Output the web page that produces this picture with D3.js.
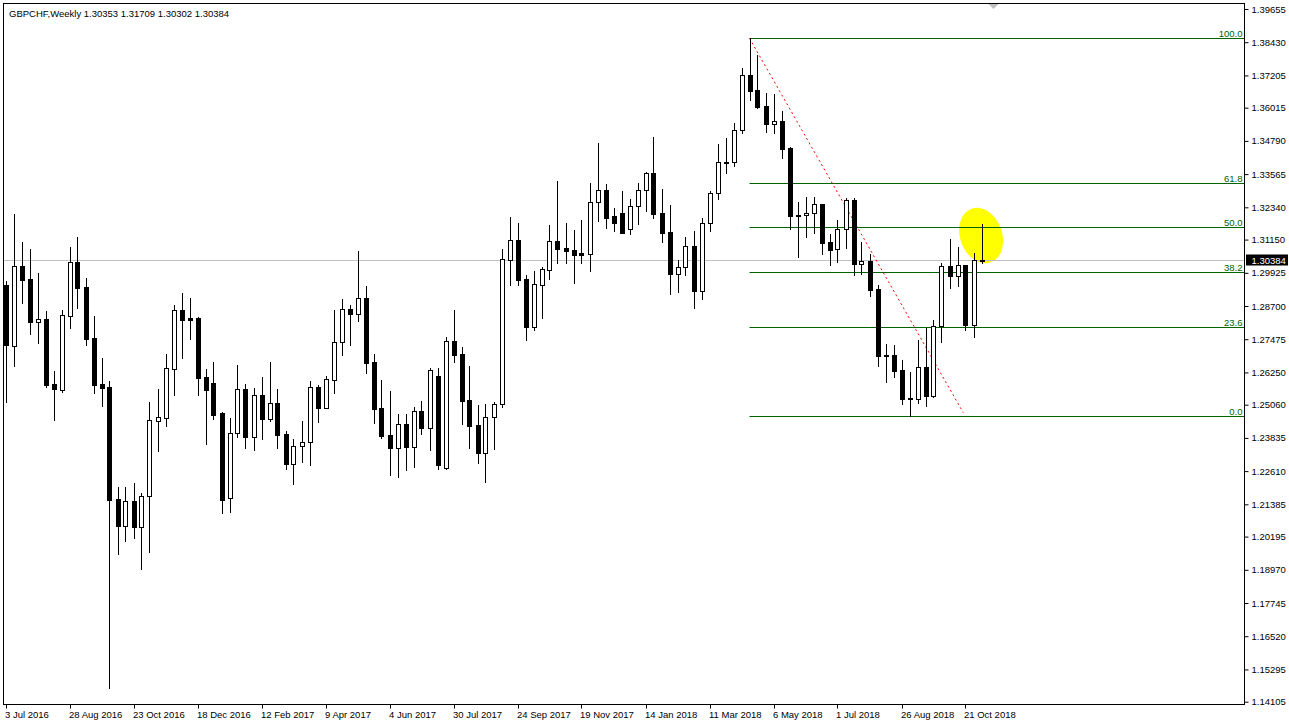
<!DOCTYPE html>
<html><head><meta charset="utf-8">
<script src="https://cdn.jsdelivr.net/npm/d3@7"></script>
<style>
html,body{margin:0;padding:0;background:#fff;}
svg{display:block;}
text{font-family:"Liberation Sans",Arial,sans-serif;font-size:9.5px;fill:#000;}
</style></head><body>
<svg id="c" width="1289" height="727"></svg>
<script>
const symbolTitle = "GBPCHF,Weekly  1.30353 1.31709 1.30302 1.30384";
const opens = [1.29475,1.27236,1.30165,1.29696,1.28121,1.28221,1.25823,1.25613,1.28342,1.30323,
1.29401,1.27520,1.25823,1.25712,1.21581,1.20597,1.21508,1.20560,1.21681,1.24470,
1.24580,1.26365,1.28553,1.28258,1.28258,1.26081,1.25860,1.24753,1.21607,1.24005,
1.25639,1.23879,1.25417,1.24543,1.25111,1.23968,1.22883,1.23525,1.23673,1.25701,
1.24927,1.25982,1.27361,1.28590,1.28394,1.28984,1.26624,1.24927,1.23942,1.23474,
1.24337,1.23511,1.24816,1.24211,1.26118,1.22714,1.27398,1.26919,1.25222,1.24311,
1.23267,1.24595,1.25086,1.30386,1.31124,1.29696,1.27937,1.29486,1.30039,1.31098,
1.30851,1.30766,1.30655,1.30629,1.32525,1.32968,1.32020,1.32119,1.31529,1.32378,
1.32968,1.33606,1.32119,1.31419,1.29892,1.30128,1.30902,1.29265,1.31751,1.32857,
1.33986,1.34001,1.35192,1.37221,1.36667,1.36077,1.35402,1.35524,1.34528,1.32046,
1.32046,1.32119,1.32463,1.31061,1.30792,1.31529,1.32610,1.30260,1.30360,1.29327,
1.26893,1.26893,1.26340,1.25307,1.25259,1.26439,1.25392,1.27974,1.30165,1.29818,
1.30201,1.28010,1.30353];
const highs = [1.29622,1.32094,1.31061,1.30803,1.29917,1.28516,1.26303,1.28553,1.30876,1.31245,
1.29733,1.28331,1.26782,1.25934,1.22035,1.22035,1.22172,1.21792,1.25170,1.25639,
1.26941,1.28737,1.29180,1.28995,1.28295,1.26376,1.26635,1.24790,1.24580,1.26535,
1.25834,1.25676,1.26092,1.26635,1.25639,1.24090,1.23795,1.24458,1.25934,1.25786,
1.26129,1.28553,1.28958,1.28726,1.30729,1.29438,1.26919,1.25971,1.25565,1.24717,
1.24717,1.24975,1.25185,1.26424,1.26424,1.27557,1.28553,1.27188,1.26487,1.25049,
1.25074,1.25148,1.30803,1.31983,1.31762,1.29844,1.29991,1.30139,1.31688,1.33311,
1.31762,1.31503,1.31883,1.33248,1.34712,1.33200,1.32326,1.32942,1.32636,1.33237,
1.33654,1.34934,1.33016,1.32415,1.30386,1.31245,1.31467,1.31946,1.32953,1.34676,
1.34897,1.35439,1.37468,1.38574,1.37958,1.36546,1.36520,1.35893,1.34554,1.32536,
1.32721,1.32721,1.32470,1.31356,1.31872,1.32695,1.32695,1.31050,1.30618,1.29475,
1.27299,1.27262,1.26708,1.26266,1.27446,1.27900,1.28184,1.30275,1.31172,1.30876,
1.30210,1.30644,1.31709];
const lows = [1.25159,1.26498,1.28822,1.27679,1.27347,1.25724,1.24506,1.25539,1.27900,1.28638,
1.27273,1.25502,1.25023,1.14621,1.19564,1.20043,1.20154,1.19011,1.19638,1.23363,
1.24285,1.25429,1.26793,1.27494,1.25429,1.23621,1.24543,1.21076,1.21113,1.23879,
1.23474,1.23389,1.23795,1.24470,1.23463,1.22688,1.22146,1.22935,1.22836,1.24433,
1.24920,1.25480,1.26893,1.27262,1.28158,1.26229,1.24396,1.23842,1.22478,1.22404,
1.22662,1.22762,1.23968,1.23400,1.22699,1.22699,1.26646,1.24359,1.23474,1.22909,
1.22220,1.23437,1.24975,1.29486,1.29464,1.27457,1.27815,1.28269,1.29707,1.30297,
1.30297,1.29560,1.30297,1.30002,1.31847,1.31588,1.31478,1.31382,1.31367,1.31736,
1.32215,1.31957,1.31072,1.29154,1.29228,1.29855,1.28638,1.28970,1.31478,1.32647,
1.33595,1.33875,1.35070,1.36299,1.36015,1.35129,1.35092,1.34170,1.31540,1.30519,
1.31256,1.31404,1.30629,1.30224,1.30334,1.30840,1.29855,1.29892,1.29080,1.26498,
1.25908,1.26092,1.25086,1.24632,1.25133,1.25023,1.25355,1.27383,1.29375,1.29438,
1.27826,1.27568,1.30302];
const closes = [1.27262,1.30165,1.29670,1.28121,1.28221,1.25786,1.25650,1.28357,1.30323,1.29375,
1.27494,1.25797,1.25687,1.21556,1.20597,1.21508,1.20560,1.21692,1.24495,1.24595,
1.26402,1.28553,1.28195,1.28195,1.26056,1.25613,1.24691,1.21556,1.24005,1.25628,
1.23879,1.25417,1.24543,1.25111,1.23953,1.22883,1.23525,1.23673,1.25701,1.24927,
1.25997,1.27361,1.28579,1.28394,1.28984,1.26609,1.24912,1.23916,1.23474,1.24337,
1.23511,1.24816,1.24211,1.26329,1.22847,1.27398,1.26904,1.25207,1.24285,1.23267,
1.24595,1.25086,1.30423,1.31124,1.29670,1.27937,1.29501,1.30054,1.31098,1.30814,
1.30740,1.30592,1.30592,1.32536,1.32968,1.31957,1.31773,1.31404,1.32378,1.32968,
1.33606,1.32105,1.31404,1.29892,1.30128,1.30902,1.29265,1.31751,1.32857,1.34001,
1.34012,1.35181,1.37221,1.36642,1.36040,1.35402,1.35513,1.34502,1.32031,1.32057,
1.32131,1.32463,1.31035,1.30766,1.31529,1.32610,1.30260,1.30360,1.29301,1.26867,
1.26880,1.26314,1.25281,1.25259,1.26439,1.25392,1.27963,1.30165,1.29818,1.30201,
1.28010,1.30397,1.30384];
const priceTicks = [1.39655,1.38430,1.37205,1.36015,1.34790,1.33565,1.32340,1.31150,1.29925,1.28700,1.27475,
1.26250,1.25060,1.23835,1.22610,1.21385,1.20195,1.18970,1.17745,1.16520,1.15295,1.14105];
const timeTickLabels = ["3 Jul 2016","28 Aug 2016","23 Oct 2016","18 Dec 2016","12 Feb 2017","9 Apr 2017",
"4 Jun 2017","30 Jul 2017","24 Sep 2017","19 Nov 2017","14 Jan 2018","11 Mar 2018","6 May 2018",
"1 Jul 2018","26 Aug 2018","21 Oct 2018"];
const fibLevels = [0, 23.6, 38.2, 50.0, 61.8, 100.0];
const fibAnchorHigh = {idx: 93, price: 1.38574};
const fibAnchorLow = {idx: 113, price: 1.24632};
const trendLine = [{idx: 93, price: 1.38574}, {idx: 119.72, price: 1.24765}];
const highlight = {idx: 121.95, price: 1.3130};

const W = 1289, H = 727;
const plotL = 3.5, plotT = 3.5, plotR = 1244.5, plotB = 704.5;
const svg = d3.select("#c");
svg.append("rect").attr("width", W).attr("height", H).attr("fill", "#fff");

const n = opens.length;
const x = d3.scaleLinear().domain([0, n - 1]).range([5.5, 5.5 + 8 * (n - 1)]);
const y = d3.scaleLinear().domain([1.14105, 1.39655]).range([701.7, 9]);

svg.append("clipPath").attr("id", "plotclip").append("rect")
  .attr("x", plotL + 0.5).attr("y", plotT + 0.5).attr("width", plotR - plotL - 1).attr("height", plotB - plotT - 1);
const plot = svg.append("g").attr("clip-path", "url(#plotclip)");

// yellow highlight
plot.append("ellipse")
  .attr("transform", `translate(${x(highlight.idx)},${y(highlight.price)}) rotate(-20)`)
  .attr("rx", 21).attr("ry", 28.5).attr("fill", "#ffff00");

// current price line
const last = closes[n - 1];
plot.append("line").attr("x1", plotL).attr("x2", plotR)
  .attr("y1", Math.round(y(last)) + 0.5).attr("y2", Math.round(y(last)) + 0.5)
  .attr("stroke", "#c0c0c0").attr("stroke-width", 1);

// fib lines
const fibRange = fibAnchorHigh.price - fibAnchorLow.price;
const fg = plot.append("g");
fibLevels.forEach(l => {
  const p = fibAnchorLow.price + fibRange * l / 100;
  const yy = Math.round(y(p)) + 0.5;
  fg.append("line").attr("x1", x(fibAnchorHigh.idx)).attr("x2", plotR)
    .attr("y1", yy).attr("y2", yy).attr("stroke", "#006400").attr("stroke-width", 1);
  fg.append("text").attr("x", plotR - 2).attr("y", yy - 2).attr("text-anchor", "end")
    .style("fill", "#006400").text(l.toFixed(1));
});

// trend line
plot.append("line")
  .attr("x1", x(trendLine[0].idx)).attr("y1", y(trendLine[0].price))
  .attr("x2", x(trendLine[1].idx)).attr("y2", y(trendLine[1].price))
  .attr("stroke", "#ff0000").attr("stroke-width", 1).attr("stroke-dasharray", "2,3");

// candles
const data = opens.map((o, i) => ({i, o, h: highs[i], l: lows[i], c: closes[i]}));
const cg = plot.append("g");
cg.selectAll("line.wick").data(data).join("line").attr("class", "wick")
  .attr("x1", d => Math.round(x(d.i)) + 0.5).attr("x2", d => Math.round(x(d.i)) + 0.5)
  .attr("y1", d => Math.round(y(d.h))).attr("y2", d => Math.round(y(d.l)) + 1)
  .attr("stroke", "#000").attr("stroke-width", 1);
cg.selectAll("rect.body").data(data).join("rect").attr("class", "body")
  .attr("x", d => Math.round(x(d.i)) - 2 + 0.5)
  .attr("y", d => Math.round(y(Math.max(d.o, d.c))) + 0.5)
  .attr("width", 4)
  .attr("height", d => Math.max(1, Math.round(y(Math.min(d.o, d.c))) - Math.round(y(Math.max(d.o, d.c)))))
  .attr("fill", d => d.c >= d.o ? "#fff" : "#000")
  .attr("stroke", "#000").attr("stroke-width", 1);

// frame
svg.append("rect").attr("x", plotL).attr("y", plotT).attr("width", plotR - plotL).attr("height", plotB - plotT)
  .attr("fill", "none").attr("stroke", "#000").attr("stroke-width", 1);

// price axis
const ya = svg.append("g").attr("transform", `translate(${plotR},0)`)
  .call(d3.axisRight(y).tickValues(priceTicks).tickSize(4).tickPadding(3).tickFormat(d3.format(".5f")));
ya.select(".domain").remove();
ya.selectAll("line").attr("stroke", "#000");
ya.selectAll("text").style("font-family", '"Liberation Sans",Arial,sans-serif').style("font-size", "9.5px").attr("fill", "#000");

// current price tag
const tagY = Math.round(y(last));
svg.append("rect").attr("x", plotR + 1.5).attr("y", tagY - 5.5).attr("width", 42).attr("height", 11).attr("fill", "#000");
svg.append("text").attr("x", plotR + 7).attr("y", tagY + 3.5).style("fill", "#fff").text(d3.format(".5f")(last));

// time axis
const tickIdx = timeTickLabels.map((_, j) => j * 8);
const xa = svg.append("g").attr("transform", `translate(0,${plotB})`);
xa.selectAll("line").data(tickIdx).join("line")
  .attr("x1", d => Math.round(x(d)) + 0.5).attr("x2", d => Math.round(x(d)) + 0.5)
  .attr("y1", 0).attr("y2", 4).attr("stroke", "#000");
xa.selectAll("text").data(tickIdx).join("text")
  .attr("x", d => Math.round(x(d)) - 1).attr("y", 13)
  .text((d, j) => timeTickLabels[j]);

// title
svg.append("text").attr("x", 9).attr("y", 16.5).text(symbolTitle);

// chart-shift marker
svg.append("path").attr("d", `M${x(n - 1) + 7},4 h10 l-5,5 z`).attr("fill", "#c0c0c0");
</script>
</body></html>
